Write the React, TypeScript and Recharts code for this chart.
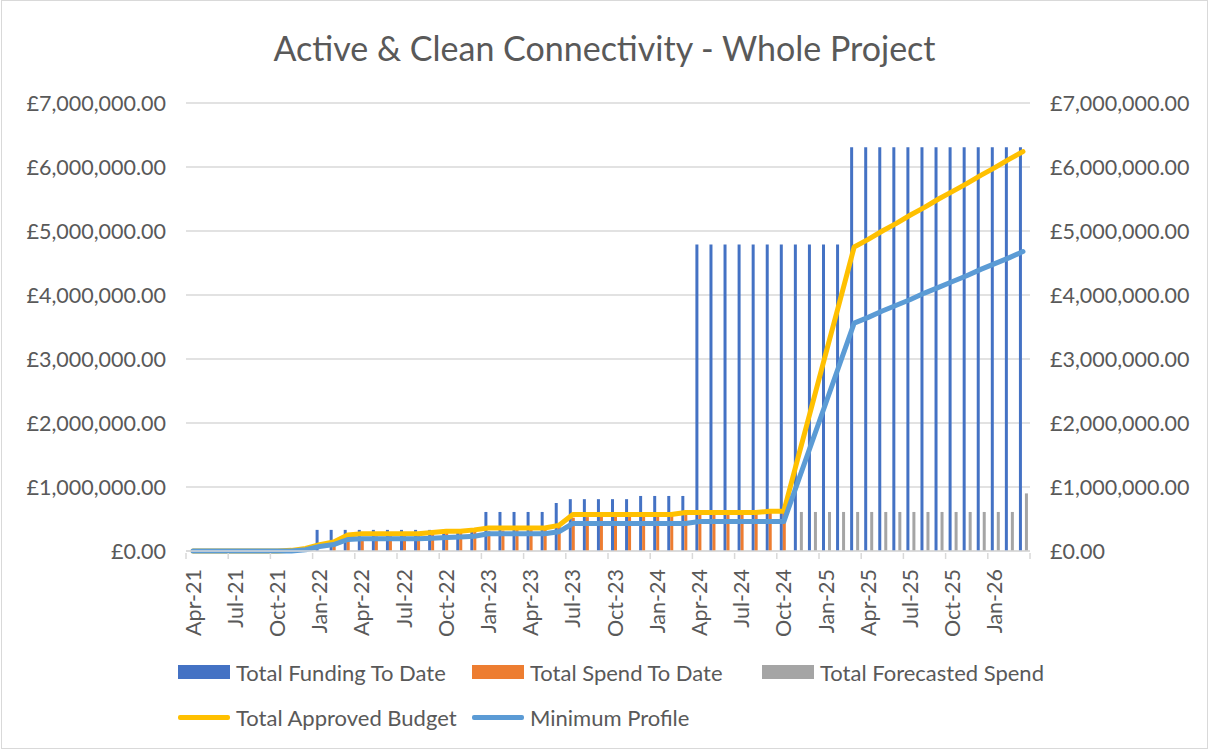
import { ComposedChart, Bar, Line, XAxis, YAxis, CartesianGrid } from "recharts";

const months = [
  "Apr-21", "May-21", "Jun-21", "Jul-21", "Aug-21", "Sep-21", "Oct-21", "Nov-21", "Dec-21", "Jan-22", "Feb-22", "Mar-22",
  "Apr-22", "May-22", "Jun-22", "Jul-22", "Aug-22", "Sep-22", "Oct-22", "Nov-22", "Dec-22", "Jan-23", "Feb-23", "Mar-23",
  "Apr-23", "May-23", "Jun-23", "Jul-23", "Aug-23", "Sep-23", "Oct-23", "Nov-23", "Dec-23", "Jan-24", "Feb-24", "Mar-24",
  "Apr-24", "May-24", "Jun-24", "Jul-24", "Aug-24", "Sep-24", "Oct-24", "Nov-24", "Dec-24", "Jan-25", "Feb-25", "Mar-25",
  "Apr-25", "May-25", "Jun-25", "Jul-25", "Aug-25", "Sep-25", "Oct-25", "Nov-25", "Dec-25", "Jan-26", "Feb-26", "Mar-26",
];

// values in £ millions
const fundingToDate = [
  0, 0, 0, 0, 0, 0, 0, 0, 0, 0.33, 0.33, 0.33,
  0.33, 0.33, 0.33, 0.33, 0.33, 0.33, 0.33, 0.33, 0.33, 0.61, 0.61, 0.61,
  0.61, 0.61, 0.75, 0.81, 0.81, 0.81, 0.81, 0.81, 0.86, 0.86, 0.86, 0.86,
  4.79, 4.79, 4.79, 4.79, 4.79, 4.79, 4.79, 4.79, 4.79, 4.79, 4.79, 6.31,
  6.31, 6.31, 6.31, 6.31, 6.31, 6.31, 6.31, 6.31, 6.31, 6.31, 6.31, 6.31,
];

const spendToDate = [
  null, null, null, null, null, null, null, null, null, null, 0.12, 0.2,
  0.22, 0.23, 0.24, 0.25, 0.26, 0.27, 0.28, 0.29, 0.3, 0.31, 0.32, 0.33,
  0.34, 0.35, 0.38, 0.52, 0.53, 0.54, 0.55, 0.55, 0.56, 0.56, 0.57, 0.58,
  0.58, 0.58, 0.59, 0.59, 0.6, 0.6, 0.61, null, null, null, null, null,
  null, null, null, null, null, null, null, null, null, null, null, null,
];

const forecastSpend = [
  null, null, null, null, null, null, null, null, null, null, null, null,
  null, null, null, null, null, null, null, null, null, null, null, null,
  null, null, null, null, null, null, null, null, null, null, null, null,
  null, null, null, null, null, null, null, 0.61, 0.61, 0.61, 0.61, 0.61,
  0.61, 0.61, 0.61, 0.61, 0.61, 0.61, 0.61, 0.61, 0.61, 0.61, 0.61, 0.9,
];

const approvedBudget = [
  0, 0, 0, 0, 0, 0, 0, 0.01, 0.04, 0.1, 0.14, 0.25,
  0.27, 0.27, 0.27, 0.27, 0.27, 0.29, 0.31, 0.31, 0.33, 0.36, 0.36, 0.36,
  0.36, 0.36, 0.4, 0.57, 0.57, 0.57, 0.57, 0.57, 0.57, 0.57, 0.57, 0.6,
  0.6, 0.6, 0.6, 0.6, 0.6, 0.62, 0.62, 1.45, 2.27, 3.1, 3.92, 4.75,
  4.87, 5.0, 5.12, 5.25, 5.37, 5.5, 5.62, 5.74, 5.87, 5.99, 6.12, 6.24,
];

const minimumProfile = [
  0, 0, 0, 0, 0, 0, 0, 0, 0.02, 0.07, 0.1, 0.18,
  0.19, 0.19, 0.19, 0.19, 0.19, 0.2, 0.21, 0.22, 0.23, 0.27, 0.27, 0.27,
  0.27, 0.27, 0.3, 0.43, 0.43, 0.43, 0.43, 0.43, 0.43, 0.43, 0.43, 0.43,
  0.46, 0.46, 0.46, 0.46, 0.46, 0.46, 0.46, 1.08, 1.7, 2.32, 2.94, 3.56,
  3.65, 3.75, 3.84, 3.93, 4.03, 4.12, 4.21, 4.3, 4.4, 4.49, 4.58, 4.68,
];

const yTicks = [0, 1000000, 2000000, 3000000, 4000000, 5000000, 6000000, 7000000];

const M = 1000000;
const toPounds = (v: number | null) => (v == null ? null : Math.round(v * M));

const data = months.map((m, i) => ({
  month: m,
  funding: toPounds(fundingToDate[i]),
  spend: toPounds(spendToDate[i]),
  forecast: toPounds(forecastSpend[i]),
  budget: toPounds(approvedBudget[i]),
  minimum: toPounds(minimumProfile[i]),
}));

const W = 1209;
const H = 751;
const LEFT_W = 186;
const RIGHT_W = 179;
const PLOT_W = W - LEFT_W - RIGHT_W;
const BAND = PLOT_W / months.length;
const TEXT = "#595959";
const GRID = "#d9d9d9";
const FONT = "Lato, 'Open Sans', sans-serif";
const TICK_SIZE = 21.5;

const fmt = (v: number) =>
  "£" + v.toLocaleString("en-GB", { minimumFractionDigits: 2, maximumFractionDigits: 2 });

const XTick = (props: any) => {
  const { x, y, payload } = props;
  const idx = months.indexOf(payload.value);
  const ty = y + 16;
  return (
    <g>
      <line x1={x - BAND / 2} x2={x - BAND / 2} y1={y} y2={y + 6} stroke={GRID} strokeWidth={1.5} />
      {idx + 3 >= months.length && (
        <line x1={x + 2.5 * BAND} x2={x + 2.5 * BAND} y1={y} y2={y + 6} stroke={GRID} strokeWidth={1.5} />
      )}
      <text
        x={x}
        y={ty}
        transform={`rotate(-90, ${x}, ${ty})`}
        textAnchor="end"
        dy="0.35em"
        fill={TEXT}
        fontSize={TICK_SIZE}
        fontFamily={FONT}
      >
        {payload.value}
      </text>
    </g>
  );
};

const legendRows = [
  [
    { label: "Total Funding To Date", color: "#4472C4", kind: "bar", left: 178 },
    { label: "Total Spend To Date", color: "#ED7D31", kind: "bar", left: 472 },
    { label: "Total Forecasted Spend", color: "#A5A5A5", kind: "bar", left: 762 },
  ],
  [
    { label: "Total Approved Budget", color: "#FFC000", kind: "line", left: 178 },
    { label: "Minimum Profile", color: "#5B9BD5", kind: "line", left: 472 },
  ],
];

export default function App() {
  return (
    <div style={{ position: "absolute", left: 0, top: 0, width: W, height: H, background: "#fff", fontFamily: FONT }}>
      <div
        style={{
          position: "absolute",
          left: 1,
          top: 0,
          width: W - 4,
          height: H - 4,
          border: `1px solid ${GRID}`,
          pointerEvents: "none",
        }}
      />
      <div
        style={{
          position: "absolute",
          left: 0,
          top: 27,
          width: W,
          textAlign: "center",
          fontSize: 34,
          color: TEXT,
        }}
      >
        Active &amp; Clean Connectivity - Whole Project
      </div>
      <ComposedChart
        width={W}
        height={H}
        data={data}
        margin={{ top: 103, right: 0, left: 0, bottom: 0 }}
        barGap={0}
        barSize={3}
      >
        <CartesianGrid vertical={false} stroke={GRID} strokeWidth={1.5} yAxisId="left" />
        <XAxis
          dataKey="month"
          interval={2}
          height={200}
          tickSize={0}
          tickLine={false}
          axisLine={{ stroke: GRID, strokeWidth: 1.5 }}
          tick={<XTick />}
        />
        <YAxis
          yAxisId="left"
          width={LEFT_W}
          domain={[0, 7000000]}
          ticks={yTicks}
          tickFormatter={fmt}
          axisLine={false}
          tickLine={false}
          tickSize={0}
          tickMargin={20}
          tick={{ fill: TEXT, fontSize: TICK_SIZE, fontFamily: FONT }}
        />
        <YAxis
          yAxisId="right"
          orientation="right"
          width={RIGHT_W}
          domain={[0, 7000000]}
          ticks={yTicks}
          tickFormatter={fmt}
          axisLine={false}
          tickLine={false}
          tickSize={0}
          tickMargin={20}
          tick={{ fill: TEXT, fontSize: TICK_SIZE, fontFamily: FONT, textAnchor: "start" }}
        />
        <Bar yAxisId="left" dataKey="funding" name="Total Funding To Date" fill="#4472C4" isAnimationActive={false} />
        <Bar yAxisId="left" dataKey="spend" name="Total Spend To Date" fill="#ED7D31" isAnimationActive={false} />
        <Bar yAxisId="left" dataKey="forecast" name="Total Forecasted Spend" fill="#A5A5A5" isAnimationActive={false} />
        <Line
          yAxisId="left"
          type="linear"
          dataKey="budget"
          name="Total Approved Budget"
          stroke="#FFC000"
          strokeWidth={5}
          strokeLinecap="round"
          strokeLinejoin="round"
          dot={false}
          isAnimationActive={false}
        />
        <Line
          yAxisId="right"
          type="linear"
          dataKey="minimum"
          name="Minimum Profile"
          stroke="#5B9BD5"
          strokeWidth={5}
          strokeLinecap="round"
          strokeLinejoin="round"
          dot={false}
          isAnimationActive={false}
        />
      </ComposedChart>
      {legendRows.map((row, r) =>
        row.map((item) => (
          <div
            key={item.label}
            style={{
              position: "absolute",
              left: item.left,
              top: 672 + r * 45 - 14,
              height: 28,
              display: "flex",
              alignItems: "center",
              color: TEXT,
              fontSize: 22,
              whiteSpace: "nowrap",
            }}
          >
            <span
              style={{
                display: "inline-block",
                width: 52,
                height: item.kind === "bar" ? 14 : 5,
                background: item.color,
                marginRight: 6,
                borderRadius: item.kind === "line" ? 2 : 0,
              }}
            />
            {item.label}
          </div>
        ))
      )}
    </div>
  );
}
